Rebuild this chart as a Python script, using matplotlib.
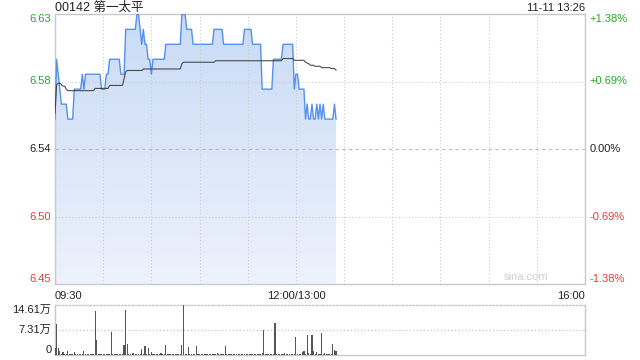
import numpy as np
import matplotlib
matplotlib.use('Agg')
import matplotlib.pyplot as plt
from matplotlib.colors import LinearSegmentedColormap

FONT = ['Liberation Sans', 'Noto Sans CJK SC', 'DejaVu Sans']
plt.rcParams['font.family'] = FONT

# ---------------- data ----------------
code_name = '00142 第一太平'
timestamp = '11-11 13:26'
prev_close = 6.54
pct_ticks = [1.38, 0.69, 0.0, -0.69, -1.38]
price_labels = ['6.63', '6.58', '6.54', '6.50', '6.45']
pct_labels = ['+1.38%', '+0.69%', '0.00%', '-0.69%', '-1.38%']
time_labels = ['09:30', '12:00/13:00', '16:00']
time_label_pos = [0, 150, 330]
total_minutes = 330

price = [
    6.56, 6.60, 6.59, 6.58, 6.57, 6.57, 6.57, 6.57, 6.56, 6.56,
    6.56, 6.56, 6.58, 6.58, 6.58, 6.58, 6.58, 6.59, 6.58,
    6.59, 6.59, 6.59, 6.59, 6.59, 6.59, 6.59, 6.59, 6.59, 6.59,
    6.58, 6.58, 6.58, 6.59, 6.59, 6.60, 6.60, 6.60, 6.60, 6.60,
    6.60, 6.60, 6.59, 6.59, 6.59,
    6.62, 6.62, 6.62, 6.62, 6.62, 6.62, 6.62, 6.63, 6.63, 6.62,
    6.61, 6.62, 6.61, 6.61, 6.60, 6.60, 6.59,
    6.60, 6.60, 6.60, 6.60, 6.60, 6.60, 6.60, 6.60,
    6.61, 6.61, 6.61, 6.61, 6.61, 6.61, 6.61, 6.61, 6.61, 6.61,
    6.63, 6.63, 6.63, 6.62, 6.62, 6.62, 6.62,
    6.61, 6.61, 6.61, 6.61, 6.61, 6.61, 6.61, 6.61, 6.61, 6.61,
    6.61, 6.61, 6.61,
    6.62, 6.62, 6.62, 6.62, 6.62, 6.62,
    6.61, 6.61, 6.61, 6.61, 6.61, 6.61, 6.61, 6.61, 6.61, 6.61,
    6.61, 6.61, 6.61,
    6.62, 6.62, 6.62, 6.62, 6.62,
    6.61, 6.61, 6.61, 6.61, 6.61, 6.61,
    6.58, 6.58, 6.58, 6.58, 6.58, 6.58, 6.58,
    6.60, 6.60, 6.60, 6.60, 6.60, 6.60,
    6.61, 6.61, 6.61, 6.61, 6.61, 6.61, 6.61,
    6.58, 6.59, 6.59, 6.58, 6.58, 6.58, 6.58,
    6.56, 6.57, 6.56, 6.56, 6.57, 6.56, 6.56, 6.57, 6.56, 6.57,
    6.56, 6.57, 6.56, 6.56, 6.56, 6.56, 6.56, 6.56, 6.57, 6.56,
]

avg_price = [
    6.564, 6.583, 6.584, 6.584, 6.583, 6.582, 6.582, 6.580,
    6.579, 6.579, 6.579, 6.579, 6.579, 6.579, 6.579, 6.579, 6.579,
    6.579, 6.579, 6.579, 6.579, 6.579, 6.579, 6.579, 6.579,
    6.5805, 6.5805, 6.5805, 6.5805, 6.5805, 6.5805, 6.5805, 6.5805, 6.5805,
    6.5825, 6.5825, 6.5825, 6.5825, 6.5825, 6.5825, 6.5825, 6.5825, 6.5825,
    6.587, 6.5915,
    6.5925, 6.5925, 6.5925, 6.5925, 6.5925, 6.5925, 6.5925, 6.5925, 6.5925, 6.5925,
    6.5935, 6.5935, 6.5935, 6.5935, 6.5935, 6.5935, 6.5935, 6.5935,
    6.5935, 6.5935, 6.5935, 6.5935, 6.5935, 6.5935, 6.5935, 6.5935,
    6.5935, 6.5935, 6.5935, 6.5935, 6.5935, 6.5935, 6.5935, 6.5935,
    6.597,
    6.598, 6.598, 6.598, 6.598, 6.598, 6.598, 6.598, 6.598, 6.598, 6.598,
    6.598, 6.598, 6.598, 6.598, 6.598, 6.598, 6.598, 6.598, 6.598, 6.598,
    6.599, 6.599, 6.599, 6.599, 6.599, 6.599, 6.599, 6.599, 6.599, 6.599,
    6.599, 6.599, 6.599, 6.599, 6.599, 6.599, 6.599, 6.599, 6.599, 6.599,
    6.599, 6.599, 6.599, 6.599, 6.599, 6.599, 6.599, 6.599, 6.599, 6.599,
    6.599, 6.599, 6.599, 6.599, 6.599, 6.599, 6.599, 6.599, 6.599, 6.599,
    6.599, 6.599,
    6.6005, 6.6005, 6.6005, 6.6005, 6.6005, 6.6005, 6.6005,
    6.5993, 6.5993, 6.5993, 6.5993, 6.5993, 6.5993, 6.5993,
    6.598, 6.5975, 6.597, 6.596, 6.596, 6.596, 6.5953, 6.5953, 6.5953, 6.5953,
    6.5944, 6.5944, 6.5944, 6.5944, 6.5944, 6.5944,
    6.5938, 6.5938, 6.5938, 6.5927,
]

# volume in 万 (10k shares)
volume = [
    2.1, 9.0, 2.1, 1.3, 0.3, 1.0, 0.2, 0.2, 1.3, 0.2,
    0.2, 0.3, 1.0, 0.2, 0.3, 0.2, 0.2, 0.3, 1.3, 0.2,
    0.2, 0.2, 0.2, 0.2, 0.3, 12.8, 4.5, 0.3, 0.2, 0.3,
    0.2, 0.2, 0.2, 0.3, 0.2, 6.6, 0.2, 0.2, 0.3, 0.2,
    0.2, 0.2, 0.3, 2.8, 13.1, 3.1, 0.2, 0.3, 0.6, 0.5,
    0.3, 0.2, 0.2, 0.3, 1.8, 0.3, 2.5, 0.3, 1.9, 0.3,
    1.0, 0.2, 0.2, 0.2, 0.3, 0.2, 0.6, 0.2, 0.2, 2.8,
    0.2, 0.2, 0.2, 0.3, 0.2, 0.2, 0.2, 0.2, 0.3, 2.8,
    14.61, 0.3, 0.2, 2.2, 0.2, 0.2, 0.3, 0.2, 2.5, 0.2,
    0.2, 0.3, 0.2, 0.2, 0.2, 0.3, 0.2, 0.2, 0.2, 0.3,
    0.2, 0.5, 0.2, 0.2, 0.3, 0.2, 2.5, 0.2, 0.2, 0.2,
    0.3, 0.2, 0.2, 0.2, 0.3, 0.2, 0.2, 0.2, 0.3, 0.2,
    0.2, 0.2, 0.3, 0.2, 0.2, 0.2, 0.3, 0.2, 0.2, 0.5,
    7.2, 0.2, 0.2, 0.3, 0.2, 0.2, 0.2, 9.3, 0.2, 0.2,
    0.3, 0.2, 0.2, 0.5, 0.2, 0.2, 0.3, 0.2, 0.2, 0.2,
    5.4, 0.2, 0.3, 0.2, 0.8, 1.3, 0.2, 5.7, 0.5, 0.3,
    5.7, 1.3, 0.3, 0.8, 0.2, 0.3, 6.3, 0.3, 0.7, 0.2,
    0.2, 0.3, 0.2, 3.1, 1.6, 1.3,
]
vol_max = 14.61
vol_tick_vals = [14.61, 7.31, 0]
vol_tick_labels = ['14.61万', '7.31万', '0']

# ---------------- styling ----------------
GREEN = '#22aa22'
RED = '#e83a3a'
BLACK = '#222222'
GRID = '#cccccc'
SPINE = '#c8c8c8'
LINE_BLUE = '#5590ef'
W, H = 640, 360

minutes = np.arange(len(price))
price_a = np.array(price)
avg_a = np.array(avg_price)
vol_a = np.array(volume)

fig = plt.figure(figsize=(6.4, 3.6), dpi=100)
fig.patch.set_facecolor('white')

def frac(l, t, r, b):
    return [l / W, 1 - b / H, (r - l) / W, (b - t) / H]

ax = fig.add_axes(frac(55, 14, 585, 284))
axv = fig.add_axes(frac(55, 305, 585, 355))

ylo = prev_close * (1 - max(pct_ticks) / 100)
yhi = prev_close * (1 + max(pct_ticks) / 100)
ax.set_xlim(0, total_minutes)
ax.set_ylim(ylo, yhi)

# gridlines (drawn above the fill, below the lines)
for m in range(30, total_minutes, 30):
    ax.axvline(m, color=GRID, lw=0.8, ls=(0, (1, 2)), zorder=3)
tick_prices = [prev_close * (1 + p / 100) for p in pct_ticks]
for p, tp in zip(pct_ticks, tick_prices):
    if p == 0:
        ax.axhline(tp, color='#bbbbbb', lw=0.8, ls=(0, (3, 3)), zorder=3)
    elif abs(p) < max(pct_ticks):
        ax.axhline(tp, color=GRID, lw=0.8, ls=(0, (1, 2)), zorder=3)

# gradient fill under the price line
poly = ax.fill_between(minutes, price_a, ylo, color='none', lw=0, zorder=2)
cmap = LinearSegmentedColormap.from_list('g', ['#edf2fc', '#c9dbf6'])
grad = np.linspace(0, 1, 256).reshape(-1, 1)
img = ax.imshow(grad, cmap=cmap, aspect='auto', origin='lower',
                extent=[0, total_minutes, ylo, yhi], zorder=2)
img.set_clip_path(poly.get_paths()[0], transform=ax.transData)
ax.set_xlim(0, total_minutes)
ax.set_ylim(ylo, yhi)

ax.plot(minutes, price_a, color=LINE_BLUE, lw=1.0, zorder=4)
ax.plot(minutes, avg_a, color='#3a3a3a', lw=0.8, zorder=5, alpha=0.9)

for s in ax.spines.values():
    s.set_color(SPINE)
    s.set_linewidth(1.0)
ax.set_xticks([])
ax.set_yticks([])

# price / percent labels
ytr = ax.get_yaxis_transform()
for i, (p, tp, pl, ql) in enumerate(zip(pct_ticks, tick_prices, price_labels, pct_labels)):
    col = GREEN if p > 0 else (RED if p < 0 else BLACK)
    va = 'center'
    if i == 0:
        va = 'top'
    elif i == len(pct_ticks) - 1:
        va = 'bottom'
    ax.text(-0.007, tp, pl, transform=ytr, ha='right', va=va, color=col, fontsize=8)
    ax.text(1.009, tp, ql, transform=ytr, ha='left', va=va, color=col, fontsize=8)

# time labels
xtr = ax.get_xaxis_transform()
for lab, pos in zip(time_labels, time_label_pos):
    ha = 'center'
    if pos == 0:
        ha = 'left'
    elif pos == total_minutes:
        ha = 'right'
    ax.text(pos, -0.025, lab, transform=xtr, ha=ha, va='top', color=BLACK, fontsize=8)

# watermark
ax.text(0.93, 0.008, 'sina.com', transform=ax.transAxes, ha='right', va='bottom',
        color='#d0d0d0', fontsize=8)

# header
fig.text(55 / W, 1 - 8 / H, code_name, ha='left', va='center', fontsize=9, color=BLACK)
fig.text(585 / W, 1 - 8 / H, timestamp, ha='right', va='center', fontsize=8, color=BLACK)

# ---------------- volume panel ----------------
axv.set_xlim(0, total_minutes)
axv.set_ylim(0, vol_max)
axv.bar(minutes, vol_a, width=0.7, color='#555555', align='center', lw=0, zorder=3)
axv.axhline(vol_tick_vals[1], color=GRID, lw=1.0, ls=(0, (1, 1.5)), zorder=1)
for k, s in axv.spines.items():
    s.set_color(SPINE)
    s.set_linewidth(1.0)
axv.spines['top'].set_linestyle((0, (1, 1.5)))
axv.set_xticks([])
axv.set_yticks([])
vtr = axv.get_yaxis_transform()
for i, (v, lab) in enumerate(zip(vol_tick_vals, vol_tick_labels)):
    va = 'center'
    if i == 0:
        va = 'top'
    elif i == len(vol_tick_vals) - 1:
        va = 'bottom'
    axv.text(-0.007, v, lab, transform=vtr, ha='right', va=va, color=BLACK, fontsize=8)

fig.savefig('out.png', dpi=100, facecolor='white')
